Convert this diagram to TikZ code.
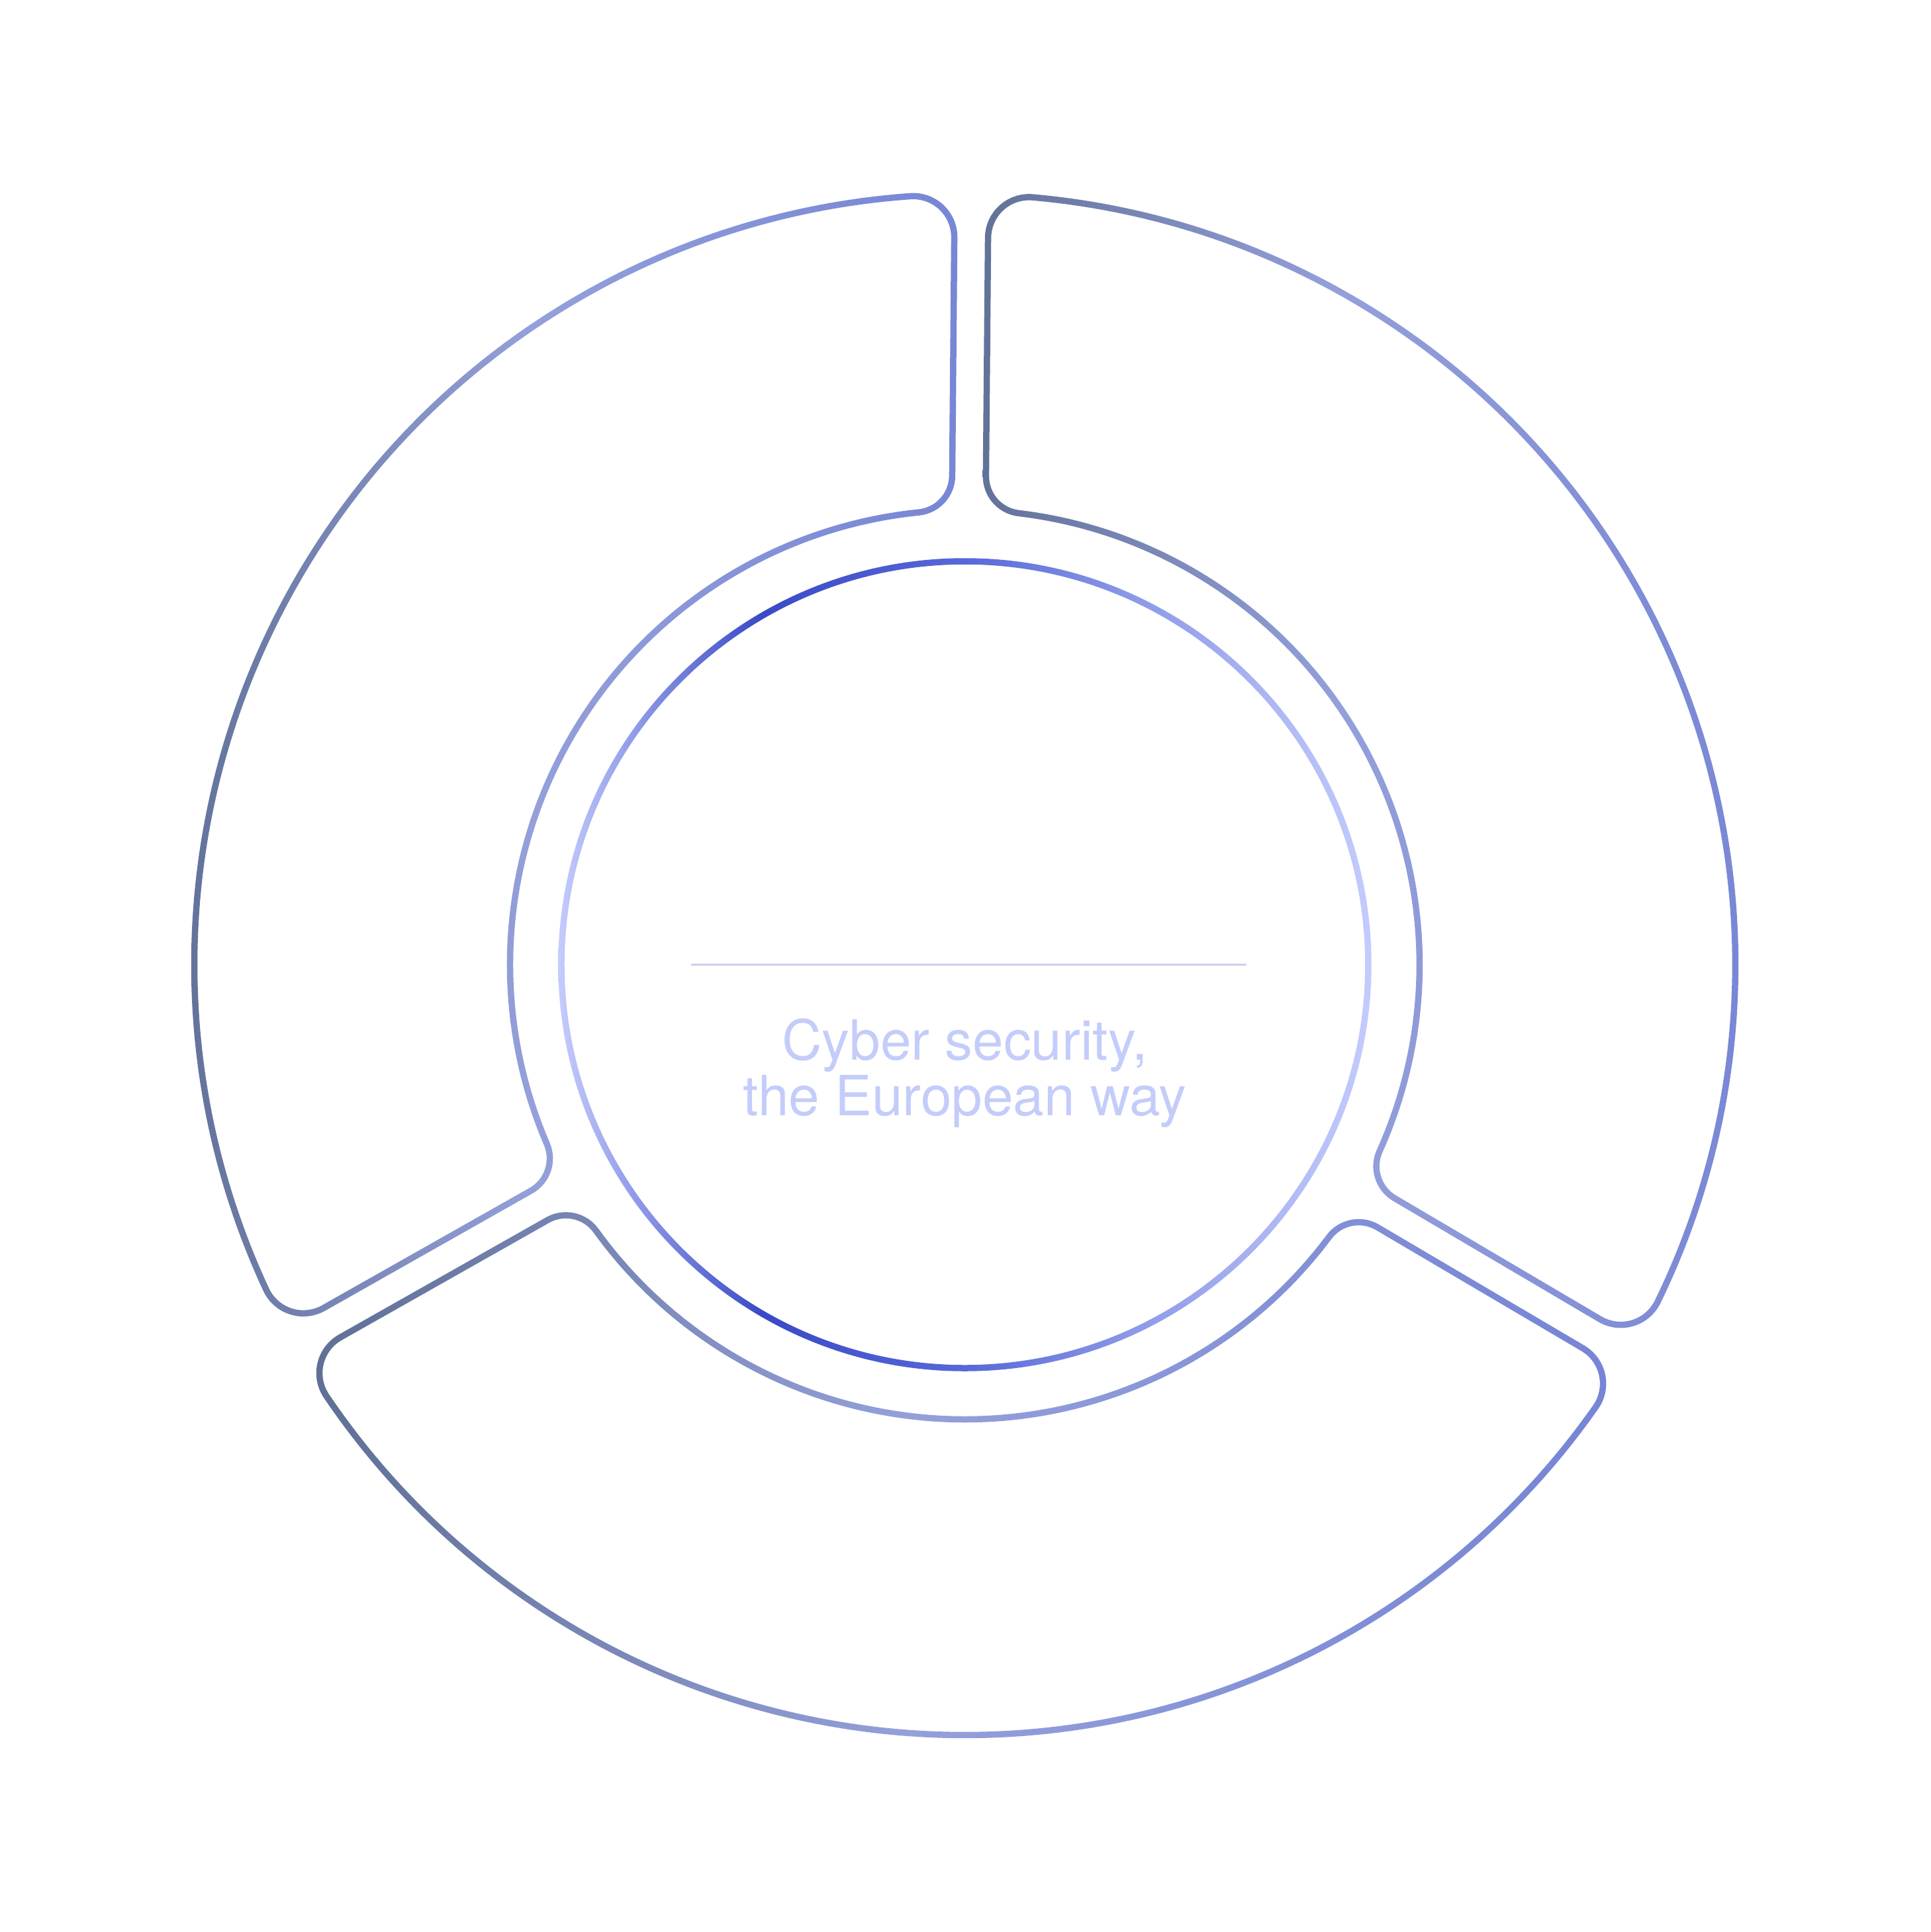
\documentclass[tikz,border=0pt]{standalone}
\usepackage{fontspec}
\setmainfont{TeX Gyre Heros}
\usepackage{tikz}
\usetikzlibrary{
	calc,
}

\definecolor{segdark}{RGB}{95,112,150}
\definecolor{seglight}{RGB}{148,160,218}
\definecolor{segblue}{RGB}{118,133,213}
\definecolor{ringpale}{RGB}{196,204,252}
\definecolor{ringdeep}{RGB}{58,74,198}
\definecolor{ringmid}{RGB}{88,104,216}
\definecolor{ringsoft}{RGB}{142,156,232}
\definecolor{textblue}{RGB}{196,204,250}
\definecolor{rulegray}{RGB}{204,209,240}

\pgfdeclarehorizontalshading{segshade}{100bp}{color(0bp)=(segdark); color(25bp)=(segdark); color(48bp)=(seglight); color(75bp)=(segblue); color(100bp)=(segblue)}
\pgfdeclarehorizontalshading{ringshade}{100bp}{color(0bp)=(ringpale); color(25bp)=(ringpale); color(37.5bp)=(ringdeep); color(50bp)=(ringmid); color(61bp)=(ringsoft); color(75bp)=(ringpale); color(100bp)=(ringpale)}

% radii, gap and corners (cm)
\def\rout{5.82}
\def\rin{3.435}
\def\rcirc{3.0475}
\def\gap{0.1275}
\def\cout{0.31}
\def\cin{0.28}
\def\hw{0.02375}
\pgfmathsetmacro\tout{sqrt((\rout-\cout)^2-(\gap+\cout)^2)}
\pgfmathsetmacro\tin{sqrt((\rin+\cin)^2-(\gap+\cin)^2)}
\pgfmathsetmacro\aout{asin((\gap+\cout)/(\rout-\cout))}
\pgfmathsetmacro\ain{asin((\gap+\cin)/(\rin+\cin))}

% one rounded ring segment from gap #1 to gap #2, grown by #3
\newcommand{\segshape}[3]{
	($(#1:\tin)+(#1+90:{\gap-(#3)})$)
	-- ++(#1:{\tout-\tin})
	arc[start angle={#1-90}, end angle={#1+\aout}, radius={\cout+(#3)}]
	arc[start angle={#1+\aout}, end angle={#2-\aout}, radius={\rout+(#3)}]
	arc[start angle={#2-\aout}, end angle={#2+90}, radius={\cout+(#3)}]
	-- ++(#2+180:{\tout-\tin})
	arc[start angle={#2+90}, end angle={#2+180-\ain}, radius={\cin+(#3)}]
	arc[start angle={#2-\ain}, end angle={#1+\ain}, radius={\rin-(#3)}]
	arc[start angle={#1+180+\ain}, end angle={#1+270}, radius={\cin+(#3)}]
	-- cycle
}

\tikzset{segment/.style={shading=segshade,even odd rule,}}
\tikzset{ring/.style={shading=ringshade,even odd rule,}}
\tikzset{rule/.style={rulegray,line width=0.4pt,}}
\tikzset{title/.style={anchor=base,inner sep=0pt,text=textblue,font=\fontsize{11.9}{12}\selectfont,}}

\begin{document}
\begin{tikzpicture}

\useasboundingbox (-7.2875,-7.3075) rectangle (7.2975,7.2875);

% the centre only widens the box the shading is fitted to
\foreach \a/\b in {-30.5/89.5, 89.5/209.5, 209.5/329.5}{
	\shade[segment] (0,0) \segshape{\a}{\b}{\hw} \segshape{\a}{\b}{-\hw};
}

\shade[ring] (0,0) circle[radius=\rcirc+\hw] (0,0) circle[radius=\rcirc-\hw];

\draw[rule] (-2.065,0) -- (2.13,0);

\node[title] (title top) at (0,-0.7175) {Cyber security,};
\node[title] (title bottom) at (0,-1.1375) {the European way};

\end{tikzpicture}
\end{document}
